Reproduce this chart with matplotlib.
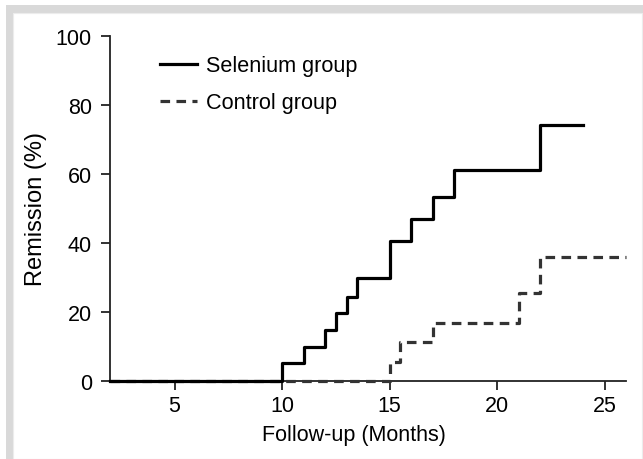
import matplotlib
matplotlib.use("Agg")
from matplotlib import pyplot as plt
from matplotlib.patches import Rectangle

# step data
sel_months = [2, 10, 11, 12, 12.5, 13, 13.5, 15, 16, 17, 18, 22, 24]
sel_remission = [0, 5.0, 9.9, 14.7, 19.5, 24.3, 29.8, 40.6, 46.9, 53.3, 61.2, 74.2, 74.2]

ctl_months = [2, 15, 15.5, 17, 21, 22, 26]
ctl_remission = [0, 5.3, 11.3, 16.7, 25.3, 35.8, 35.8]

x_ticks = [5, 10, 15, 20, 25]
y_ticks = [0, 20, 40, 60, 80, 100]

plt.rcParams['font.family'] = ['Liberation Sans', 'DejaVu Sans']

W, H = 643, 460
fig = plt.figure(figsize=(W / 100, H / 100), dpi=100)

# grey frame around the panel
fig.patches.append(Rectangle((6 / W, 0), 1, (H - 6) / H, transform=fig.transFigure,
                             facecolor="#d9d9d9", edgecolor="none", zorder=-10))
fig.patches.append(Rectangle((13 / W, 0), (641.5 - 13) / W, (H - 14) / H,
                             transform=fig.transFigure, facecolor="white",
                             edgecolor="#ececec", linewidth=0.8, zorder=-9))

ax = fig.add_axes([110 / W, (H - 381.7) / H, (626 - 110) / W, (381.7 - 36.7) / H])
ax.patch.set_alpha(0)

ax.plot(ctl_months, ctl_remission, drawstyle="steps-post", color="#333333",
        lw=2.3, dashes=(3, 2), label="Control group", clip_on=False, zorder=3)
ax.plot(sel_months, sel_remission, drawstyle="steps-post", color="black",
        lw=2.3, label="Selenium group", clip_on=False, zorder=4)

ax.set_xlim(2, 26)
ax.set_ylim(0, 100)
ax.set_xticks(x_ticks)
ax.set_yticks(y_ticks)
for s in ["top", "right"]:
    ax.spines[s].set_visible(False)
for s in ["left", "bottom"]:
    ax.spines[s].set_linewidth(1.3)
    ax.spines[s].set_color("#222222")
ax.tick_params(length=6.5, width=1.3, labelsize=15.5, color="#222222")
ax.tick_params(axis="x", pad=4)
ax.tick_params(axis="y", pad=6.5)

ax.set_xlabel("Follow-up (Months)", fontsize=15.5, labelpad=5.5, x=0.473)
ax.set_ylabel("Remission (%)", fontsize=17, labelpad=6)

h, l = ax.get_legend_handles_labels()
ax.legend(h[::-1], l[::-1], loc="upper left", bbox_to_anchor=(0.06, 1.0),
          frameon=False, fontsize=15.6, handlelength=1.7, handletextpad=0.4,
          labelspacing=0.75)

fig.savefig("out.png", dpi=100)
